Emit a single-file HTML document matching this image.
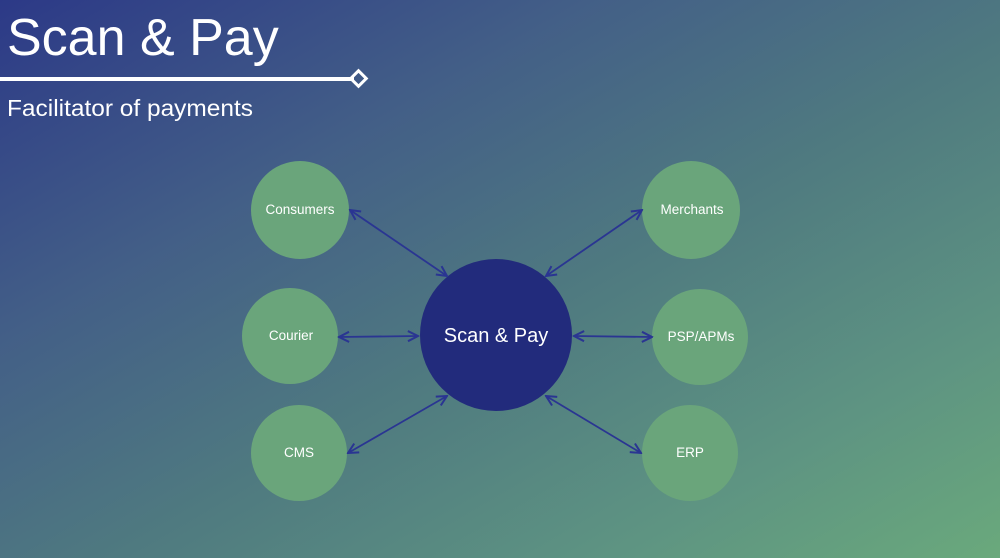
<!DOCTYPE html>
<html><head><style>
body{margin:0;width:1000px;height:558px;overflow:hidden;font-family:"Liberation Sans",sans-serif;
background:linear-gradient(150deg,#2c3987 0%,#435f87 30%,#4f7a80 55%,#5e9482 80%,#6aa97c 100%);}
</style></head><body>
<svg width="1000" height="558" style="position:absolute;left:0;top:0">
<defs><marker id="a" viewBox="0 0 10 10" refX="9" refY="5" markerWidth="7" markerHeight="7" orient="auto-start-reverse"><path d="M1,1 L9,5 L1,9" fill="none" stroke="#2a3592" stroke-width="1.6"/></marker></defs>
<text x="7" y="55" font-size="52" fill="#fff" font-family="Liberation Sans, sans-serif">Scan &amp; Pay</text>
<rect x="0" y="77" width="354" height="4" fill="#fff"/>
<rect x="353" y="73" width="11" height="11" transform="rotate(45 358.5 78.5)" fill="none" stroke="#fff" stroke-width="3"/>
<text x="7" y="116" font-size="23" fill="#fff" textLength="246" lengthAdjust="spacingAndGlyphs" font-family="Liberation Sans, sans-serif">Facilitator of payments</text>
<g fill="#6aa57b">
<circle cx="300" cy="210" r="49"/><circle cx="290" cy="336" r="48"/><circle cx="299" cy="453" r="48"/>
<circle cx="691" cy="210" r="49"/><circle cx="700" cy="337" r="48"/><circle cx="690" cy="453" r="48"/>
</g>
<circle cx="496" cy="335" r="76" fill="#222b7c"/>
<g stroke="#2a3592" stroke-width="1.8" marker-start="url(#a)" marker-end="url(#a)">
<line x1="350" y1="210" x2="447" y2="276"/>
<line x1="642" y1="210" x2="546" y2="276"/>
<line x1="339" y1="337" x2="418" y2="336"/>
<line x1="574" y1="336" x2="652" y2="337"/>
<line x1="348" y1="453" x2="447" y2="396"/>
<line x1="546" y1="396" x2="641" y2="453"/>
</g>
<g fill="#fff" font-size="13.5" text-anchor="middle" font-family="Liberation Sans, sans-serif">
<text x="300" y="214">Consumers</text><text x="291" y="340">Courier</text><text x="299" y="457">CMS</text>
<text x="692" y="214">Merchants</text><text x="701" y="341">PSP/APMs</text><text x="690" y="457">ERP</text>
</g>
<text x="496" y="342" font-size="20" fill="#fff" text-anchor="middle" font-family="Liberation Sans, sans-serif">Scan &amp; Pay</text>
</svg>
</body></html>
